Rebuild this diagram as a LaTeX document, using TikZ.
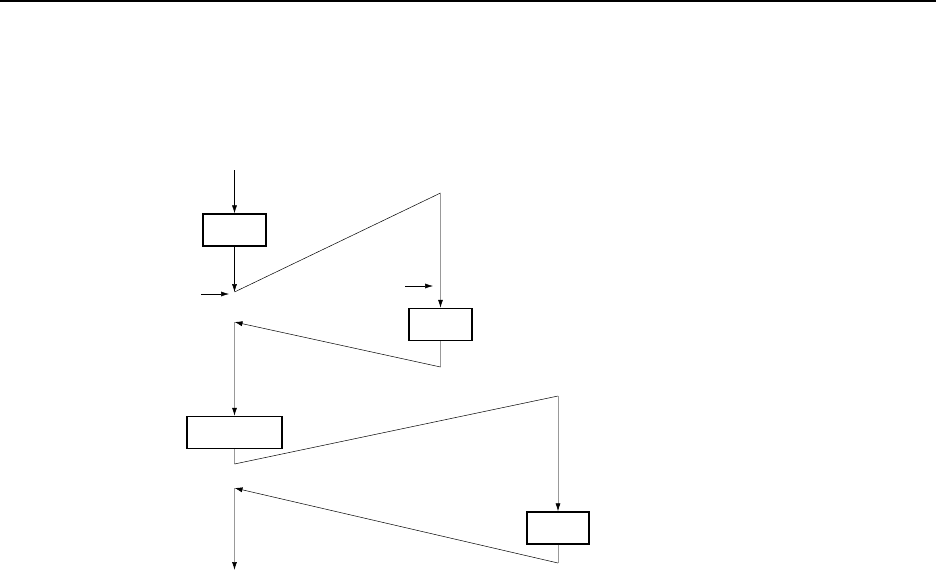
\documentclass[tikz,border=0pt]{standalone}
\usetikzlibrary{arrows.meta}
\begin{document}
\begin{tikzpicture}[x=1pt,y=-1pt,
  boxnode/.style={draw,line width=1.3pt,inner sep=0pt,minimum height=32pt},
  blk/.style={draw=black,line width=0.5pt},
  gry/.style={draw=black!40,line width=0.7pt},
  arr/.style={-{Latex[black,length=8pt,width=5pt]}}]
\useasboundingbox (0,0) rectangle (936,571);
\draw[line width=1.5pt] (0,0.75) -- (936,0.75);
% boxes
\node[boxnode,minimum width=63pt] (b1) at (234.5,230) {};
\node[boxnode,minimum width=63pt] (b2) at (440.5,324.5) {};
\node[boxnode,minimum width=95pt] (b3) at (234.5,432.5) {};
\node[boxnode,minimum width=62pt] (b4) at (558,528) {};
% coordinates
\coordinate (s0) at (234.5,170);
\coordinate (j1) at (234.5,292);
\coordinate (i1) at (201,294);
\coordinate (i1e) at (229,294);
\coordinate (t1) at (440.5,193);
\coordinate (i2) at (405,286);
\coordinate (i2e) at (433,286);
\coordinate (r1) at (440.5,367);
\coordinate (j2) at (234.5,322);
\coordinate (r2) at (234.5,464);
\coordinate (t2) at (558,396);
\coordinate (r3) at (558,563);
\coordinate (j3) at (234.5,488);
\coordinate (e) at (234.5,570);
% connectors
\draw[blk,arr] (s0) -- (b1.north);
\draw[blk,arr] (b1.south) -- (j1);
\draw[blk,arr] (i1) -- (i1e);
\draw[blk] (j1) -- (t1);
\draw[gry,arr] (t1) -- (b2.north);
\draw[blk,arr] (i2) -- (i2e);
\draw[gry] (b2.south) -- (r1);
\draw[blk,arr] (r1) -- (j2);
\draw[gry,arr] (j2) -- (b3.north);
\draw[gry] (b3.south) -- (r2);
\draw[blk] (r2) -- (t2);
\draw[gry,arr] (t2) -- (b4.north);
\draw[gry] (b4.south) -- (r3);
\draw[blk,arr] (r3) -- (j3);
\draw[gry,arr] (j3) -- (e);
\end{tikzpicture}
\end{document}
